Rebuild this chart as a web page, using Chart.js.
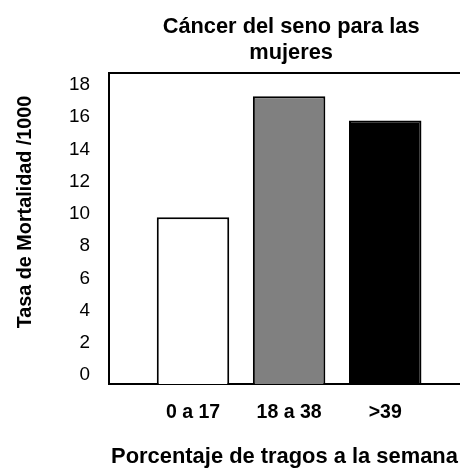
<!DOCTYPE html>
<html>
<head>
<meta charset="utf-8">
<script src="https://cdn.jsdelivr.net/npm/chart.js@4.4.1/dist/chart.umd.min.js"></script>
<style>
  html, body { margin: 0; padding: 0; background: #fff; overflow: hidden; }
  #wrap { width: 460px; height: 471px; position: relative; }
</style>
</head>
<body>
<div id="wrap"><canvas id="chart"></canvas></div>
<script>
// Drinks per week groups and breast-cancer mortality per 1000 women
const categories = ['0 a 17', '18 a 38', '>39'];
const mortality = [9.8, 17.3, 15.8];
const barColors = ['#ffffff', '#808080', '#000000'];
const yTicks = [0, 2, 4, 6, 8, 10, 12, 14, 16, 18];
const titleLines = ['Cáncer del seno para las', 'mujeres'];
const yTitle = 'Tasa de Mortalidad /1000';
const xTitle = 'Porcentaje de tragos a la semana';

const FONT = '"Liberation Sans", Arial, Helvetica, sans-serif';

// Frame top edge, chart title and rotated value-axis title
const captions = {
  id: 'captions',
  afterDraw(chart) {
    const { ctx, chartArea, scales: { x } } = chart;
    ctx.save();
    ctx.strokeStyle = '#000';
    ctx.lineWidth = 2;
    ctx.beginPath();
    ctx.moveTo(chartArea.left - 1, chartArea.top);
    ctx.lineTo(chartArea.right, chartArea.top);
    ctx.stroke();

    ctx.fillStyle = '#000';
    ctx.textAlign = 'center';
    ctx.textBaseline = 'alphabetic';
    ctx.font = 'bold 21.8px ' + FONT;
    const cx = x.getPixelForValue(1) + 2;
    titleLines.forEach((line, i) => ctx.fillText(line, cx, 32.5 + i * 26));

    ctx.translate(31, 212);
    ctx.rotate(-Math.PI / 2);
    ctx.font = 'bold 19.8px ' + FONT;
    ctx.fillText(yTitle, 0, 0);
    ctx.restore();
  }
};

new Chart(document.getElementById('chart'), {
  type: 'bar',
  data: {
    datasets: [{
      data: categories.map((c, i) => ({ x: i, y: mortality[i] })),
      backgroundColor: barColors,
      borderColor: '#000',
      borderWidth: 2,
      base: -0.56,
      barPercentage: 0.754,
      categoryPercentage: 1
    }]
  },
  options: {
    responsive: true,
    maintainAspectRatio: false,
    animation: false,
    layout: { padding: { top: 73, left: 0, right: 0, bottom: 0 } },
    plugins: {
      legend: { display: false },
      title: { display: false },
      tooltip: { enabled: false }
    },
    scales: {
      x: {
        type: 'linear',
        min: -0.874,
        max: 2.778,
        offset: false,
        grid: { display: false },
        border: { display: true, color: '#000', width: 2 },
        afterBuildTicks: (scale) => { scale.ticks = categories.map((c, i) => ({ value: i })); },
        afterFit: (scale) => { scale.height = 87; scale.paddingLeft = 0; scale.paddingRight = 0; },
        ticks: {
          autoSkip: false,
          maxRotation: 0,
          color: '#000',
          padding: 9,
          font: { family: FONT, size: 19.5, weight: 'bold' },
          callback: (v) => categories[v]
        },
        title: {
          display: true,
          text: xTitle,
          color: '#000',
          font: { family: FONT, size: 21.9, weight: 'bold' },
          padding: { top: 0, bottom: 1 }
        }
      },
      y: {
        type: 'linear',
        min: -0.56,
        max: 18.75,
        grid: { display: false },
        border: { display: true, color: '#000', width: 2 },
        afterBuildTicks: (scale) => { scale.ticks = yTicks.map(v => ({ value: v })); },
        afterFit: (scale) => { scale.width = 109; },
        ticks: {
          color: '#000',
          padding: 11,
          font: { family: FONT, size: 18.9 }
        }
      }
    }
  },
  plugins: [captions]
});
</script>
</body>
</html>
